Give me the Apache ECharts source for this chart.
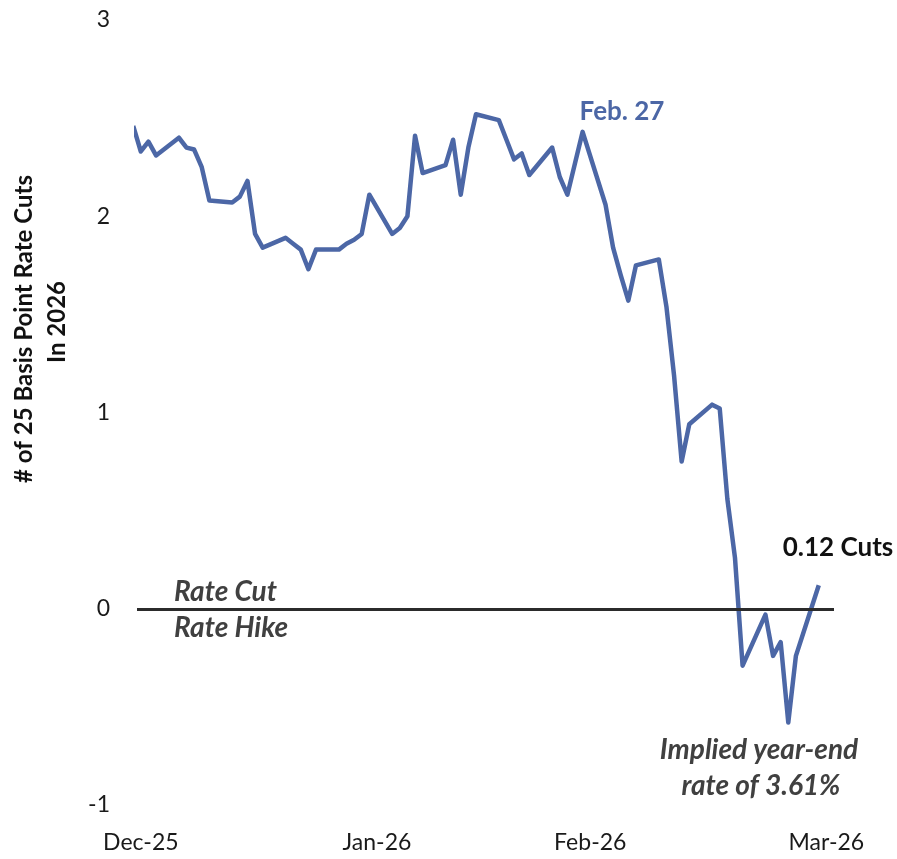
<!DOCTYPE html>
<html>
<head>
<meta charset="utf-8">
<script src="https://cdn.jsdelivr.net/npm/echarts@6/dist/echarts.min.js"></script>
<style>
  html, body { margin: 0; padding: 0; background: #fff; }
  #chart { width: 897px; height: 859px; }
</style>
</head>
<body>
<div id="chart"></div>
<script>
// Trading-day observations (first point sits just left of the plot and is clipped)
const dates = [
  '2025-12-30', '2025-12-31', '2026-01-01', '2026-01-02',
  '2026-01-05', '2026-01-06', '2026-01-07', '2026-01-08', '2026-01-09',
  '2026-01-12', '2026-01-13', '2026-01-14', '2026-01-15', '2026-01-16',
  '2026-01-19', '2026-01-20', '2026-01-21', '2026-01-22', '2026-01-23',
  '2026-01-26', '2026-01-27', '2026-01-28', '2026-01-29', '2026-01-30',
  '2026-02-02', '2026-02-03', '2026-02-04', '2026-02-05', '2026-02-06',
  '2026-02-09', '2026-02-10', '2026-02-11', '2026-02-12', '2026-02-13',
  '2026-02-16', '2026-02-17', '2026-02-18', '2026-02-19', '2026-02-20',
  '2026-02-23', '2026-02-24', '2026-02-25', '2026-02-26', '2026-02-27',
  '2026-03-02', '2026-03-03', '2026-03-04', '2026-03-05', '2026-03-06',
  '2026-03-09', '2026-03-10', '2026-03-11', '2026-03-12', '2026-03-13',
  '2026-03-16', '2026-03-17', '2026-03-18', '2026-03-19', '2026-03-20',
  '2026-03-23', '2026-03-24', '2026-03-25', '2026-03-26', '2026-03-27',
  '2026-03-30'
];
const cuts = [
  2.46, 2.33, 2.38, 2.31,
  2.40, 2.35, 2.34, 2.25, 2.08,
  2.07, 2.10, 2.18, 1.91, 1.84,
  1.89, 1.86, 1.83, 1.73, 1.83,
  1.83, 1.86, 1.88, 1.91, 2.11,
  1.91, 1.94, 2.00, 2.41, 2.22,
  2.26, 2.39, 2.11, 2.35, 2.52,
  2.49, 2.39, 2.29, 2.32, 2.21,
  2.35, 2.20, 2.11, 2.27, 2.43,
  2.06, 1.84, 1.70, 1.57, 1.75,
  1.78, 1.54, 1.19, 0.75, 0.94,
  1.04, 1.02, 0.56, 0.26, -0.29,
  -0.03, -0.24, -0.17, -0.58, -0.24,
  0.12
];
// Month-end tick labels
const tickDates = ['2025-12-31', '2026-01-31', '2026-02-28', '2026-03-31'];
const tickLabels = ['Dec-25', 'Jan-26', 'Feb-26', 'Mar-26'];
const yTicks = [-1, 0, 1, 2, 3];

const BLUE = '#4C67A6';
const GREY = '#404040';
const FONT = 'Lato, "Open Sans", sans-serif';

const origin = Date.UTC(2025, 11, 31);
function dayIndex(s) {
  const p = s.split('-').map(Number);
  return Math.round((Date.UTC(p[0], p[1] - 1, p[2]) - origin) / 86400000);
}

const points = dates.map((d, i) => [dayIndex(d), cuts[i]]);
const tickDays = tickDates.map(dayIndex);
const tickMap = {};
tickDays.forEach((d, i) => { tickMap[d] = tickLabels[i]; });

function note(text, x, y, font, fill, align) {
  return {
    type: 'text', x: x, y: y,
    style: { text: text, align: align || 'center', verticalAlign: 'middle', font: font + ' ' + FONT, fill: fill }
  };
}

const chart = echarts.init(document.getElementById('chart'));
chart.setOption({
  animation: false,
  backgroundColor: '#fff',
  grid: { left: 137, right: 63, top: 20, bottom: 54 },
  xAxis: {
    type: 'value',
    min: -0.5,
    max: 91,
    axisLine: { show: false },
    axisTick: { show: false },
    splitLine: { show: false },
    axisLabel: {
      customValues: tickDays,
      formatter: v => tickMap[Math.round(v)] || '',
      margin: 26,
      fontSize: 23,
      color: '#1a1a1a',
      fontFamily: FONT
    }
  },
  yAxis: {
    type: 'value',
    min: yTicks[0],
    max: yTicks[yTicks.length - 1],
    interval: 1,
    axisLine: { show: false },
    axisTick: { show: false },
    splitLine: { show: false },
    axisLabel: {
      margin: 27,
      fontSize: 23,
      color: '#1a1a1a',
      fontFamily: FONT
    }
  },
  series: [{
    type: 'line',
    data: points,
    symbol: 'none',
    clip: true,
    lineStyle: { color: BLUE, width: 4.5, join: 'round' },
    markLine: {
      silent: true,
      symbol: 'none',
      label: { show: false },
      lineStyle: { color: '#2b2b2b', width: 3, type: 'solid' },
      data: [{ yAxis: 0 }]
    },
    z: 3
  }],
  graphic: [
    {
      type: 'text', x: 24, y: 329, rotation: Math.PI / 2,
      style: { text: '# of 25 Basis Point Rate Cuts', align: 'center', verticalAlign: 'middle', font: 'bold 24px ' + FONT, fill: '#111' }
    },
    {
      type: 'text', x: 57, y: 322, rotation: Math.PI / 2,
      style: { text: 'In 2026', align: 'center', verticalAlign: 'middle', font: 'bold 24px ' + FONT, fill: '#111' }
    },
    note('Feb. 27', 622, 112, 'bold 26px', BLUE),
    note('0.12 Cuts', 838, 548, 'bold 26px', '#111'),
    note('Rate Cut', 174, 592, 'italic bold 28px', GREY, 'left'),
    note('Rate Hike', 174, 628, 'italic bold 28px', GREY, 'left'),
    note('Implied year-end', 759, 750, 'italic bold 28px', GREY),
    note('rate of 3.61%', 761, 786, 'italic bold 28px', GREY)
  ]
});
</script>
</body>
</html>
